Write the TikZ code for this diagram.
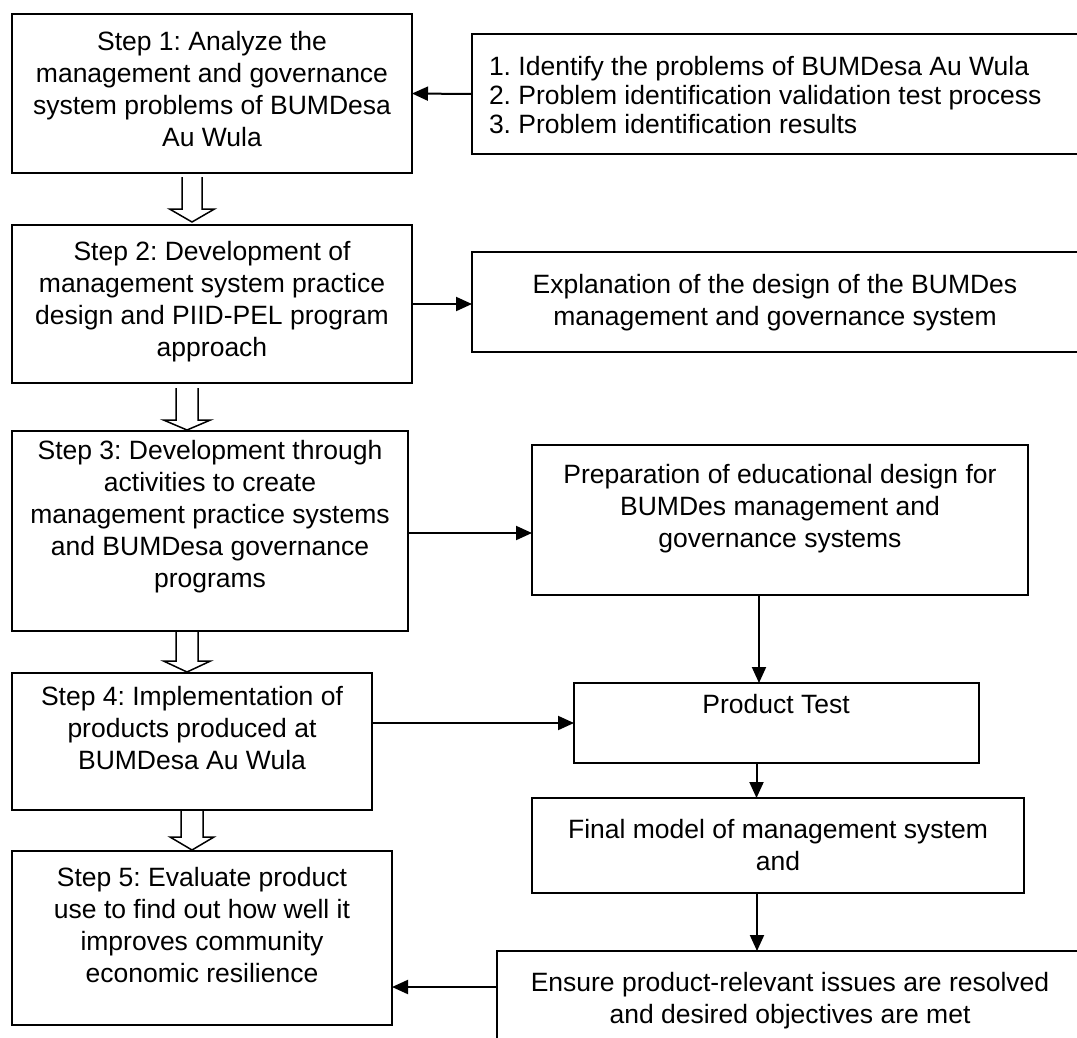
\documentclass[tikz,border=0pt]{standalone}
\usepackage{fontspec}
\setmainfont{Liberation Sans}
\usetikzlibrary{arrows.meta}
\frenchspacing

\begin{document}
\begin{tikzpicture}[x=1pt, y=-1pt, line width=2pt,
		box/.style={draw, rectangle, anchor=north west, inner sep=0pt, outer sep=0pt},
		txt/.style={anchor=north, align=center, inner sep=0pt, font=\fontsize{26.5}{32}\selectfont},
		>={Triangle[length=16pt, width=14pt]}]
	\useasboundingbox (0,0) rectangle (1077,1037);
	\clip (0,0) rectangle (1077,1037);
	
	\node[box, minimum width=400, minimum height=159] (s1) at (12,14){};
	\node[box, minimum width=400, minimum height=158] (s2) at (12,225){};
	\node[box, minimum width=396, minimum height=200] (s3) at (12,431){};
	\node[box, minimum width=360, minimum height=137] (s4) at (12,673){};
	\node[box, minimum width=380, minimum height=174] (s5) at (12,851){};
	
	\node[box, minimum width=640, minimum height=120] (ident) at (472,34){};
	\node[box, minimum width=640, minimum height=100] (expl) at (472,252){};
	\node[box, minimum width=496, minimum height=150] (prep) at (532,445){};
	\node[box, minimum width=405, minimum height=80] (test) at (574,683){};
	\node[box, minimum width=492, minimum height=95] (final) at (532,798){};
	\node[box, minimum width=620, minimum height=120] (ensure) at (497,951){};
	
	\node[txt] (s1t) at (212,30){Step 1: Analyze the\\management and governance\\system problems of BUMDesa\\Au Wula};
	\node[txt] (s2t) at (212,240){Step 2: Development of\\management system practice\\design and PIID-PEL program\\approach};
	\node[txt] (s3t) at (210,439){Step 3: Development through\\activities to create\\management practice systems\\and BUMDesa governance\\programs};
	\node[txt] (s4t) at (192,685){Step 4: Implementation of\\products produced at\\BUMDesa Au Wula};
	\node[txt] (s5t) at (202,866){Step 5: Evaluate product\\use to find out how well it\\improves community\\economic resilience};
	
	\node[txt, anchor=north west, align=left] (identt) at (488,55){1. Identify the problems of BUMDesa Au Wula\\[-3pt]2. Problem identification validation test process\\[-3pt]3. Problem identification results};
	\node[txt] (explt) at (775,273){Explanation of the design of the BUMDes\\management and governance system};
	\node[txt] (prept) at (780,463){Preparation of educational design for\\BUMDes management and\\governance systems};
	\node[txt] (testt) at (776,693){Product Test};
	\node[txt] (finalt) at (778,818){Final model of management system\\and};
	\node[txt] (ensuret) at (790,971){Ensure product-relevant issues are resolved\\and desired objectives are met};
	
	\draw[->] (ident.west) -- (s1.east);
	\draw[->] (s2.east) -- (s2.east -| expl.west);
	\draw[->] ([yshift=-2pt]s3.east) -- ([yshift=-2pt]s3.east -| prep.west);
	\draw[->] (s4.east |- test.west) -- (test.west);
	\draw[->] ([xshift=-21pt]prep.south) -- ([xshift=-21pt]prep.south |- test.north);
	\draw[->] ([xshift=-20pt]test.south) -- ([xshift=-20pt]test.south |- final.north);
	\draw[->] ([xshift=-21pt]final.south) -- ([xshift=-21pt]final.south |- ensure.north);
	\draw[->] ([yshift=-36pt]ensure.north west) -- ([yshift=-36pt]ensure.north west -| s5.east);
	
	\foreach \cx/\hs/\hh/\top/\base/\tip in {192/10/22.5/177/209/222, 187/11/23.5/388/420/430, 187/11/23.5/631/661/672, 192/11/22/810/837/850}{
		\draw[line width=1.5pt, line join=miter] (\cx-\hs,\top) -- (\cx-\hs,\base) -- (\cx-\hh,\base) -- (\cx,\tip) -- (\cx+\hh,\base) -- (\cx+\hs,\base) -- (\cx+\hs,\top);
	}
\end{tikzpicture}
\end{document}
